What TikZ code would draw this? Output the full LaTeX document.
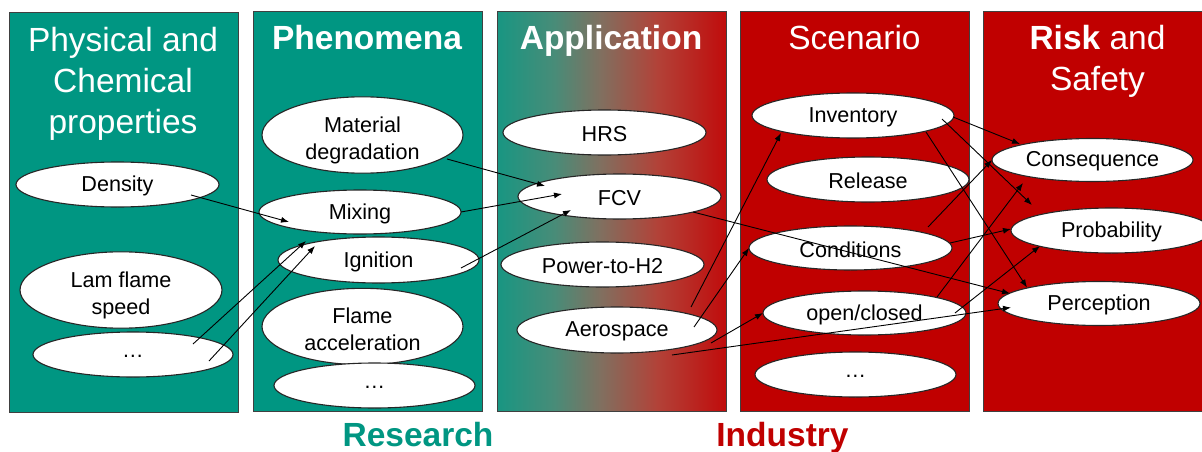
\documentclass[tikz,border=0pt]{standalone}
\usepackage{fontspec}
\setmainfont{Liberation Sans}
\usetikzlibrary{shapes.geometric,arrows.meta}
\definecolor{kgreen}{RGB}{0,150,130}
\definecolor{kred}{RGB}{192,0,0}
\definecolor{gA}{RGB}{24,150,130}
\definecolor{gB}{RGB}{72,140,120}
\definecolor{gC}{RGB}{128,112,96}
\definecolor{gD}{RGB}{178,66,56}
\definecolor{gE}{RGB}{192,12,12}
\pgfdeclarehorizontalshading{appshade}{100bp}{color(0bp)=(gA); color(25bp)=(gA); color(37.5bp)=(gB); color(47.5bp)=(gC); color(60bp)=(gD); color(75bp)=(gE); color(100bp)=(gE)}
\newcommand\twoline[2]{\raisebox{-5.5pt}[\height][\depth]{\begin{tabular}{@{}c@{}}#1\\#2\end{tabular}}}
\newcommand\oneline[1]{\raisebox{-1.5pt}[\height][\depth]{#1}}
\tikzset{
  panel/.style={draw=black!75, line width=1pt, minimum width=229pt, minimum height=399pt, inner sep=0pt},
  ttl/.style={text=white, anchor=base, inner sep=0pt, font=\fontsize{33.5}{40.5}\selectfont},
  ell/.style={ellipse, draw=black!85, line width=1.1pt, fill=white, inner sep=0pt, align=center, text=black, font=\fontsize{21.6}{27}\selectfont},
  arr/.style={-{Latex[length=8pt,width=6pt]}, line width=0.9pt, black},
  big/.style={anchor=base, inner sep=0pt, font=\fontsize{33.5}{40}\selectfont\bfseries}
}
\begin{document}
\begin{tikzpicture}[x=1pt,y=-1pt]
\clip (0,0) rectangle (1202,452);
\fill[white] (0,0) rectangle (1202,452);
% panels
\node[panel, fill=kgreen] (P1) at (124,212.5) {};
\node[panel, fill=kgreen] (P2) at (367.5,211.5) {};
\node[panel, shading=appshade] (P3) at (611.5,211.5) {};
\node[panel, fill=kred] (P4) at (854.5,211.5) {};
\node[panel, fill=kred] (P5) at (1097.5,211.5) {};
% titles
\node[ttl] (t1a) at (123,52) {Physical and};
\node[ttl] (t1b) at (123,92.5) {Chemical};
\node[ttl] (t1c) at (123,133) {properties};
\node[ttl, font=\fontsize{33.5}{40.5}\selectfont\bfseries] (t2) at (367,50) {Phenomena};
\node[ttl, font=\fontsize{33.5}{40.5}\selectfont\bfseries] (t3) at (611,50) {Application};
\node[ttl] (t4) at (854.5,50) {Scenario};
\node[ttl] (t5a) at (1097.5,50) {\textbf{Risk} and};
\node[ttl] (t5b) at (1097.5,90.5) {Safety};
% ellipses panel 1
\node[ell, minimum width=203pt, minimum height=45pt] (density) at (117.5,184.5) {\oneline{Density}};
\node[ell, minimum width=202pt, minimum height=68pt] (lam) at (121,290) {\twoline{Lam flame}{speed}};
\node[ell, minimum width=200pt, minimum height=45pt] (dotsA) at (133,354.5) {\oneline{\dots}};
% panel 2
\node[ell, minimum width=201pt, minimum height=70pt] (matdeg) at (362.5,135) {\twoline{Material}{degradation}};
\node[ell, minimum width=202pt, minimum height=44pt] (mixing) at (360,212) {\oneline{Mixing}};
\node[ell, minimum width=201pt, minimum height=46pt] (ignition) at (378.5,260) {\oneline{Ignition}};
\node[ell, minimum width=201pt, minimum height=65pt] (flameacc) at (362.5,326.5) {\twoline{Flame}{acceleration}};
\node[ell, minimum width=201pt, minimum height=45pt] (dotsB) at (374.5,385.5) {\oneline{\dots}};
% panel 3
\node[ell, minimum width=203pt, minimum height=45pt] (hrs) at (604.5,132.5) {\oneline{HRS}};
\node[ell, minimum width=203pt, minimum height=45pt] (fcv) at (619.5,196.5) {\oneline{FCV}};
\node[ell, minimum width=203pt, minimum height=45pt] (p2h) at (602.5,264.5) {\oneline{Power-to-H2}};
\node[ell, minimum width=200pt, minimum height=46pt] (aero) at (617,330) {\oneline{Aerospace}};
% panel 4
\node[ell, minimum width=202pt, minimum height=45pt] (inv) at (853,115.5) {\oneline{Inventory}};
\node[ell, minimum width=202pt, minimum height=45pt] (rel) at (868,179.5) {\oneline{Release}};
\node[ell, minimum width=203pt, minimum height=44pt] (cond) at (850.5,248) {\oneline{Conditions}};
\node[ell, minimum width=203pt, minimum height=44pt] (open) at (864.5,313) {\oneline{open/closed}};
\node[ell, minimum width=201pt, minimum height=45pt] (dotsC) at (855.5,374.5) {\oneline{\dots}};
% panel 5
\node[ell, minimum width=201pt, minimum height=43pt] (cons) at (1092.5,160) {\oneline{Consequence}};
\node[ell, minimum width=201pt, minimum height=45pt] (prob) at (1111.5,230.5) {\oneline{Probability}};
\node[ell, minimum width=202pt, minimum height=44pt] (perc) at (1099,303.5) {\oneline{Perception}};
% arrows
\draw[arr] ([shift={(73.5,10.5)}]density.center) -- ([shift={(-71,10)}]mixing.center);
\draw[arr] ([shift={(60,-10.5)}]dotsA.center) -- ([shift={(-72.5,-19)}]ignition.center);
\draw[arr] ([shift={(76,6.5)}]dotsA.center) -- ([shift={(-63.5,-14)}]ignition.center);
\draw[arr] ([shift={(84.5,24)}]matdeg.center) -- ([shift={(-74.5,-10.5)}]fcv.center);
\draw[arr] ([shift={(101,0)}]mixing.center) -- ([shift={(-57.5,-2.5)}]fcv.center);
\draw[arr] ([shift={(82.5,8)}]ignition.center) -- ([shift={(-48.5,13.5)}]fcv.center);
\draw[arr] ([shift={(73.5,15.5)}]fcv.center) -- ([shift={(-89,-10)}]perc.center);
\draw[arr] ([shift={(74,-23)}]aero.center) -- ([shift={(-72,17.5)}]inv.center);
\draw[arr] ([shift={(77,-3)}]aero.center) -- ([shift={(-101.5,0)}]cond.center);
\draw[arr] ([shift={(94,13)}]aero.center) -- ([shift={(-101.5,0)}]open.center);
\draw[arr] ([shift={(55,25)}]aero.center) -- ([shift={(-88,4)}]perc.center);
\draw[arr] ([shift={(100,1.5)}]inv.center) -- ([shift={(-72.5,-16)}]cons.center);
\draw[arr] ([shift={(89,3.5)}]inv.center) -- ([shift={(-79.5,-25.5)}]prob.center);
\draw[arr] ([shift={(73,16.5)}]inv.center) -- ([shift={(-72,-16)}]perc.center);
\draw[arr] ([shift={(77.5,-21)}]cond.center) -- ([shift={(-100.5,0)}]cons.center);
\draw[arr] ([shift={(99.5,-5)}]cond.center) -- ([shift={(-100.5,-1.5)}]prob.center);
\draw[arr] ([shift={(72.5,-16)}]open.center) -- ([shift={(-69.5,23)}]cons.center);
\draw[arr] ([shift={(90.5,0)}]open.center) -- ([shift={(-71.5,15.5)}]prob.center);
% bottom labels
\node[big, text=kgreen] (research) at (418,446) {Research};
\node[big, text=kred] (industry) at (782.5,446) {Industry};
\end{tikzpicture}
\end{document}
